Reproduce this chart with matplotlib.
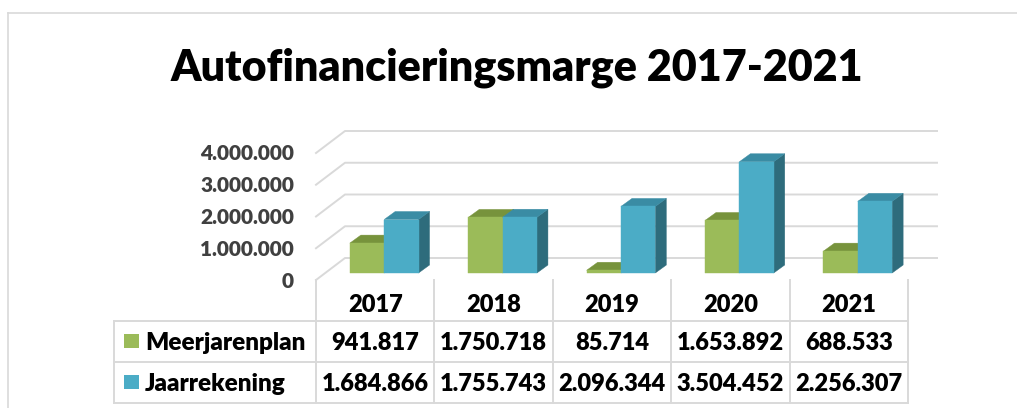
import matplotlib
matplotlib.use('Agg')
import matplotlib.pyplot as plt
import matplotlib.transforms as mtransforms
from matplotlib.patches import Polygon, Rectangle
from matplotlib.lines import Line2D

plt.rcParams['font.family'] = ['Lato', 'DejaVu Sans']

# data
years = ['2017', '2018', '2019', '2020', '2021']
meerjarenplan = [941817, 1750718, 85714, 1653892, 688533]
jaarrekening = [1684866, 1755743, 2096344, 3504452, 2256307]
series_names = ['Meerjarenplan', 'Jaarrekening']
y_ticks = [0, 1000000, 2000000, 3000000, 4000000]

def fmt(v):
    return f'{v:,}'.replace(',', '.')

W, H = 1017, 408
GREEN = '#9BBB59'
GREEN_TOP = '#77933C'
GREEN_SIDE = '#5F7530'
BLUE = '#4BACC6'
BLUE_TOP = '#3A8CA4'
BLUE_SIDE = '#2E6C7C'
GRID = '#D9D9D9'
WEIGHT = 'heavy'

fig = plt.figure(figsize=(W / 100, H / 100), dpi=100)

# front plane of the 3d plot area (pixels)
x_left, x_right = 316, 908
y_zero, y_top = 280, 153
ax = fig.add_axes([x_left / W, 1 - y_zero / H, (x_right - x_left) / W, (y_zero - y_top) / H])
ax.set_xlim(-0.5, len(years) - 0.5)
ax.set_ylim(0, 4000000)
ax.set_axis_off()

WALL = (29, 22)     # depth of the floor/back wall in pixels
BAR_F = (9, 7)      # front face of bars
BAR_B = (20, 15)    # back face of bars
bar_w = 0.29


def disp(x, y, off):
    px, py = ax.transData.transform((x, y))
    return (px + off[0], py + off[1])


ident = mtransforms.IdentityTransform()

# back wall gridlines and side wall diagonals
for v in y_ticks:
    a = disp(-0.5, v, (0, 0))
    b = disp(-0.5, v, WALL)
    c = disp(len(years) - 0.5, v, WALL)
    ax.add_line(Line2D([a[0], b[0], c[0]], [a[1], b[1], c[1]], color=GRID,
                       lw=1.4, transform=ident, clip_on=False, zorder=1))


def draw_bar(x0, x1, h, front, top, side):
    f = [disp(x0, 0, BAR_F), disp(x1, 0, BAR_F), disp(x1, h, BAR_F), disp(x0, h, BAR_F)]
    t = [disp(x0, h, BAR_F), disp(x1, h, BAR_F), disp(x1, h, BAR_B), disp(x0, h, BAR_B)]
    s = [disp(x1, 0, BAR_F), disp(x1, 0, BAR_B), disp(x1, h, BAR_B), disp(x1, h, BAR_F)]
    for pts, col in ((s, side), (t, top), (f, front)):
        ax.add_patch(Polygon(pts, closed=True, facecolor=col, edgecolor=col, lw=0.3,
                             transform=ident, clip_on=False, zorder=3))


for i in range(len(years)):
    draw_bar(i - bar_w, i, meerjarenplan[i], GREEN, GREEN_TOP, GREEN_SIDE)
    draw_bar(i, i + bar_w, jaarrekening[i], BLUE, BLUE_TOP, BLUE_SIDE)

# y tick labels
lab_tr = mtransforms.offset_copy(
    mtransforms.blended_transform_factory(ax.transAxes, ax.transData),
    fig=fig, x=-22, y=-7.5, units='dots')
for v in y_ticks:
    ax.text(0, v, fmt(v), transform=lab_tr, ha='right', va='baseline',
            fontsize=15, fontweight=WEIGHT, color='#404040')

# title
fig.text(517 / W, 1 - 80 / H, 'Autofinancieringsmarge 2017-2021', ha='center',
         va='baseline', fontsize=31, fontweight=WEIGHT, color='black')

# data table
col_tr = mtransforms.blended_transform_factory(ax.transData, fig.transFigure)
fy = lambda yi: 1 - yi / H
fx = lambda xi: xi / W
row_lines = [321, 362, 403]
tab_left = 114
lw_tab = 1.4
for yl in row_lines:
    fig.add_artist(Line2D([fx(tab_left), fx(x_right)], [fy(yl), fy(yl)], color=GRID, lw=lw_tab))
fig.add_artist(Line2D([fx(tab_left), fx(tab_left)], [fy(321), fy(403)], color=GRID, lw=lw_tab))
for k in range(len(years) + 1):
    ax.add_line(Line2D([k - 0.5, k - 0.5], [fy(y_zero), fy(403)], color=GRID, lw=lw_tab,
                       transform=col_tr, clip_on=False))

for i, yr in enumerate(years):
    ax.text(i, fy(312), yr, transform=col_tr, ha='center', va='baseline',
            fontsize=17, fontweight=WEIGHT, color='black')
    ax.text(i, fy(350), fmt(meerjarenplan[i]), transform=col_tr, ha='center',
            va='baseline', fontsize=17, fontweight=WEIGHT, color='black')
    ax.text(i, fy(391), fmt(jaarrekening[i]), transform=col_tr, ha='center',
            va='baseline', fontsize=17, fontweight=WEIGHT, color='black')

for name, col, base in ((series_names[0], GREEN, 350), (series_names[1], BLUE, 391)):
    fig.add_artist(Rectangle((fx(124), fy(base - 2)), 15 / W, 14 / H, facecolor=col,
                             edgecolor='none', transform=fig.transFigure))
    fig.text(fx(145), fy(base), name, ha='left', va='baseline', fontsize=17.5,
             fontweight=WEIGHT, color='black')

# chart border
fig.add_artist(Line2D([fx(8), 1], [fy(13), fy(13)], color=GRID, lw=1.2))
fig.add_artist(Line2D([fx(8), fx(8)], [fy(13), 0], color=GRID, lw=1.2))

fig.savefig('out.png', dpi=100)
